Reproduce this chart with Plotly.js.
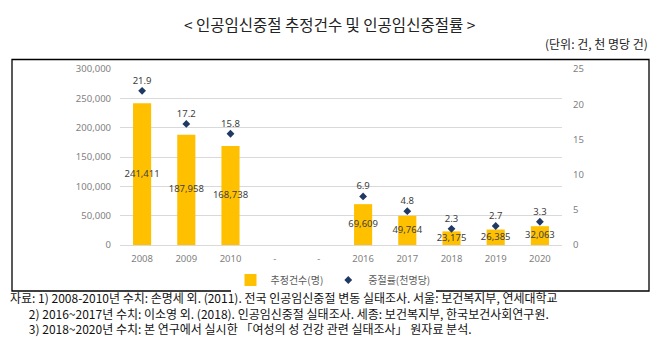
<!DOCTYPE html>
<html>
<head>
<meta charset="utf-8">
<script src="https://cdn.plot.ly/plotly-3.0.1.min.js"></script>
<style>html,body{margin:0;padding:0;background:#fff;}#chart{width:658px;height:340px;}</style>
</head>
<body>
<div id="chart"></div>
<script>
// ---- data ----
const categories = ['2008', '2009', '2010', '-', '-', '2016', '2017', '2018', '2019', '2020'];
const abortionCounts = [241411, 187958, 168738, null, null, 69609, 49764, 23175, 26385, 32063];
const abortionRates = [21.9, 17.2, 15.8, null, null, 6.9, 4.8, 2.3, 2.7, 3.3];
const leftTicks = [0, 50000, 100000, 150000, 200000, 250000, 300000];
const rightTicks = [0, 5, 10, 15, 20, 25];
const seriesNames = ['추정건수(명)', '중절률(천명당)'];
const titleText = '&lt; 인공임신중절 추정건수 및 인공임신중절률 &gt;';
const unitText = '(단위: 건, 천 명당 건)';
const notes = [
  '자료: 1) 2008-2010년 수치: 손명세 외. (2011). 전국 인공임신중절 변동 실태조사. 서울: 보건복지부, 연세대학교',
  '2) 2016~2017년 수치: 이소영 외. (2018). 인공임신중절 실태조사. 세종: 보건복지부, 한국보건사회연구원.',
  '3) 2018~2020년 수치: 본 연구에서 실시한 「여성의 성 건강 관련 실태조사」 원자료 분석.'
];

const idx = categories.map((c, i) => i);
const fmt = v => v == null ? '' : v.toLocaleString('en-US');
const numFont = 'Noto Sans, Liberation Sans, sans-serif';
const krFont = 'Noto Sans CJK KR, sans-serif';

const bars = {
  type: 'bar', x: idx, y: abortionCounts, name: seriesNames[0],
  marker: {color: '#FFC000'}, yaxis: 'y', hoverinfo: 'none'
};
const barLabels = {
  type: 'scatter', mode: 'text', x: idx,
  y: abortionCounts.map(v => v == null ? null : v / 2),
  text: abortionCounts.map(fmt), textposition: 'middle center',
  textfont: {family: numFont, size: 9.5, color: '#404040'},
  showlegend: false, hoverinfo: 'none', yaxis: 'y'
};
const rates = {
  type: 'scatter', mode: 'markers+text', x: idx, y: abortionRates, name: seriesNames[1],
  yaxis: 'y2', marker: {symbol: 'diamond', size: 6, color: '#1F3864'},
  text: abortionRates.map(v => v == null ? '' : v.toFixed(1)), textposition: 'top center',
  textfont: {family: numFont, size: 9.5, color: '#404040'}, hoverinfo: 'none', cliponaxis: false
};

const W = 442, H = 176, L = 120, T = 69;
const px = x => (x - L) / W;
const py = y => (T + H - y) / H;
const indent = '\u00A0'.repeat(7);
const notesText = notes.map((n, i) => (i === 0 ? '' : indent) + n).join('<br>');

const annotations = [
  {text: titleText, x: px(330), y: py(24), xref: 'paper', yref: 'paper', xanchor: 'center', yanchor: 'middle', showarrow: false,
   font: {family: krFont, size: 15.5, color: '#222'}},
  {text: unitText, x: px(650), y: py(44), xref: 'paper', yref: 'paper', xanchor: 'right', yanchor: 'middle', showarrow: false,
   font: {family: krFont, size: 12, color: '#222'}},
  {text: notesText, x: px(8), y: py(313), xref: 'paper', yref: 'paper', xanchor: 'left', yanchor: 'middle', align: 'left',
   showarrow: false, font: {family: krFont, size: 12, color: '#111'}}
];

const layout = {
  width: 658, height: 340,
  margin: {l: L, r: 658 - L - W, t: T, b: 340 - T - H, pad: 0},
  paper_bgcolor: '#fff', plot_bgcolor: '#fff',
  showlegend: true,
  legend: {orientation: 'h', x: px(333), xanchor: 'center', y: py(280), yanchor: 'middle',
           font: {family: krFont, size: 10, color: '#595959'}, itemwidth: 30, tracegroupgap: 0},
  bargap: 0.59,
  xaxis: {range: [-0.5, categories.length - 0.5], tickvals: idx, ticktext: categories,
          showgrid: false, zeroline: false, showline: false, ticks: '',
          tickfont: {family: numFont, size: 9.5, color: '#7f7f7f'}, ticklabelstandoff: 6, fixedrange: true},
  yaxis: {range: [0, 300000], tickvals: leftTicks, ticktext: leftTicks.map(fmt),
          showgrid: true, gridcolor: '#d9d9d9', gridwidth: 1, zeroline: true, zerolinecolor: '#d9d9d9',
          showline: false, ticks: '', tickfont: {family: numFont, size: 9.5, color: '#7f7f7f'},
          ticklabelstandoff: 8},
  yaxis2: {range: [0, 25], tickvals: rightTicks, overlaying: 'y', side: 'right',
           showgrid: false, zeroline: false, showline: false, ticks: '',
           tickfont: {family: numFont, size: 9.5, color: '#7f7f7f'}, ticklabelstandoff: 10},
  shapes: [
    {type: 'rect', xref: 'paper', yref: 'paper', x0: px(12), x1: px(649), y0: py(291), y1: py(59.5),
     line: {color: '#000', width: 1.3}, fillcolor: 'rgba(0,0,0,0)', layer: 'below'}
  ],
  annotations: annotations
};

Plotly.newPlot('chart', [bars, barLabels, rates], layout, {displayModeBar: false, staticPlot: true});
</script>
</body>
</html>
